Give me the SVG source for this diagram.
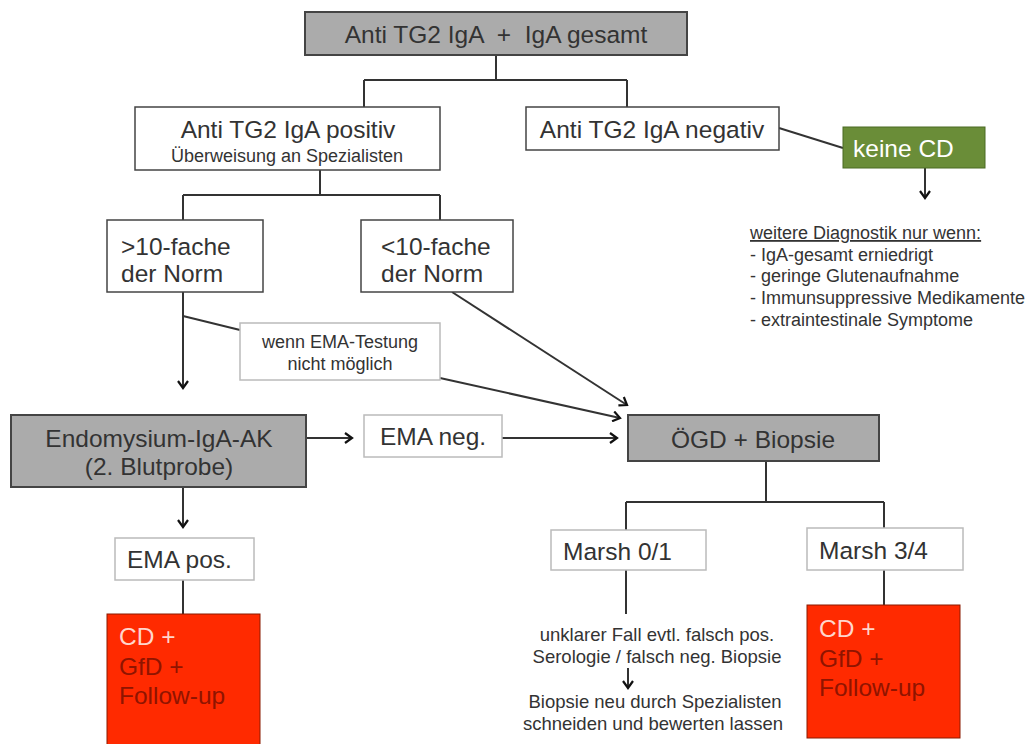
<svg xmlns="http://www.w3.org/2000/svg" width="1032" height="744" viewBox="0 0 1032 744">
<style>
text{font-family:"Liberation Sans",Arial,sans-serif;fill:#333}
.big{font-size:24.5px}
.mid{font-size:18.5px}
.sm{font-size:18px}
.gray{fill:#ababab;stroke:#444;stroke-width:2}
.wb{fill:#fff;stroke:#444;stroke-width:1.5}
.lb{fill:#fff;stroke:#bbb;stroke-width:1.5}
.red{fill:#ff2a00;stroke:#8a1a00;stroke-width:1}
.ln{fill:none;stroke:#333;stroke-width:2}
.ct{text-anchor:middle}
</style>
<defs>
<marker id="ah" markerWidth="12" markerHeight="12" refX="10" refY="6" orient="auto" markerUnits="userSpaceOnUse">
<path d="M3,1 L10,6 L3,11" fill="none" stroke="#111" stroke-width="2.2"/>
</marker>
</defs>
<g id="connectors">
<path class="ln" d="M496,55 V80 M364,80 H627 M364,80 V107 M627,80 V107"/>
<path class="ln" d="M320,170 V195 M183,195 H440 M183,195 V220 M440,195 V220"/>
<path class="ln" d="M779,128 L843,148"/>
<path class="ln" d="M925,168 V198" marker-end="url(#ah)"/>
<path class="ln" d="M183,292 V388" marker-end="url(#ah)"/>
<path class="ln" d="M183,316 L240,330"/>
<path class="ln" d="M440,378 L620,418" marker-end="url(#ah)"/>
<path class="ln" d="M452,292 L627,405" marker-end="url(#ah)"/>
<path class="ln" d="M306,438 H352" marker-end="url(#ah)"/>
<path class="ln" d="M502,438 H617" marker-end="url(#ah)"/>
<path class="ln" d="M183,487 V527" marker-end="url(#ah)"/>
<path class="ln" d="M183,580 V614"/>
<path class="ln" d="M766,461 V502 M626,502 H884 M626,502 V530 M884,502 V528"/>
<path class="ln" d="M626,570 V614"/>
<path class="ln" d="M884,570 V605"/>
<path class="ln" d="M628,668 V688" marker-end="url(#ah)"/>
</g>
<g id="n-top">
<rect class="gray" x="305" y="12" width="382" height="43"/>
<text class="big ct" x="496" y="43" xml:space="preserve">Anti TG2 IgA  +  IgA gesamt</text>
</g>
<g id="n-pos">
<rect class="wb" x="135" y="107" width="305" height="63"/>
<text class="big ct" x="288" y="138">Anti TG2 IgA positiv</text>
<text class="sm ct" x="287" y="162">Überweisung an Spezialisten</text>
</g>
<g id="n-neg">
<rect class="wb" x="526" y="107" width="253" height="43"/>
<text class="big ct" x="652" y="138">Anti TG2 IgA negativ</text>
</g>
<g id="n-keine">
<rect x="843" y="127" width="142" height="41" fill="#6a8d38" stroke="#4a6a22" stroke-width="1"/>
<text class="big" x="853" y="157" style="fill:#fff">keine CD</text>
</g>
<g id="n-weitere">
<text class="sm" x="750" y="239" text-decoration="underline">weitere Diagnostik nur wenn:</text>
<text class="sm" x="750" y="261">- IgA-gesamt erniedrigt</text>
<text class="sm" x="750" y="282">- geringe Glutenaufnahme</text>
<text class="sm" x="750" y="304">- Immunsuppressive Medikamente</text>
<text class="sm" x="750" y="326">- extraintestinale Symptome</text>
</g>
<g id="n-gt10">
<rect class="wb" x="107" y="220" width="156" height="72"/>
<text class="big" x="121" y="255">&gt;10-fache</text>
<text class="big" x="121" y="282">der Norm</text>
</g>
<g id="n-lt10">
<rect class="wb" x="361" y="220" width="152" height="72"/>
<text class="big" x="381" y="255">&lt;10-fache</text>
<text class="big" x="381" y="282">der Norm</text>
</g>
<g id="n-wenn">
<rect class="lb" x="240" y="323" width="200" height="57"/>
<text class="sm ct" x="340" y="348">wenn EMA-Testung</text>
<text class="sm ct" x="340" y="370">nicht möglich</text>
</g>
<g id="n-endo">
<rect class="gray" x="11" y="415" width="295" height="72"/>
<text class="big ct" x="159" y="447">Endomysium-IgA-AK</text>
<text class="big ct" x="159" y="475">(2. Blutprobe)</text>
</g>
<g id="n-emaneg">
<rect class="lb" x="364" y="415" width="138" height="42"/>
<text class="big ct" x="433" y="445">EMA neg.</text>
</g>
<g id="n-ogd">
<rect class="gray" x="628" y="415" width="251" height="46"/>
<text class="big ct" x="753" y="448">ÖGD + Biopsie</text>
</g>
<g id="n-emapos">
<rect class="lb" x="115" y="538" width="139" height="42"/>
<text class="big" x="127" y="568">EMA pos.</text>
</g>
<g id="n-cd1">
<rect class="red" x="107" y="614" width="153" height="135"/>
<text class="big" x="119" y="645" style="fill:#ffd6cc">CD +</text>
<text class="big" x="119" y="675" style="fill:#8f1400">GfD +</text>
<text class="big" x="119" y="704" style="fill:#8f1400">Follow-up</text>
</g>
<g id="n-m01">
<rect class="lb" x="551" y="530" width="155" height="40"/>
<text class="big" x="563" y="560">Marsh 0/1</text>
</g>
<g id="n-m34">
<rect class="lb" x="807" y="528" width="156" height="42"/>
<text class="big" x="819" y="559">Marsh 3/4</text>
</g>
<g id="n-unklar">
<text class="mid ct" x="657" y="641">unklarer Fall evtl. falsch pos.</text>
<text class="mid ct" x="657" y="663">Serologie / falsch neg. Biopsie</text>
<text class="mid ct" x="655" y="708">Biopsie neu durch Spezialisten</text>
<text class="mid ct" x="653" y="730">schneiden und bewerten lassen</text>
</g>
<g id="n-cd2">
<rect class="red" x="807" y="605" width="153" height="133"/>
<text class="big" x="819" y="637" style="fill:#ffd6cc">CD +</text>
<text class="big" x="819" y="667" style="fill:#8f1400">GfD +</text>
<text class="big" x="819" y="696" style="fill:#8f1400">Follow-up</text>
</g>
</svg>
